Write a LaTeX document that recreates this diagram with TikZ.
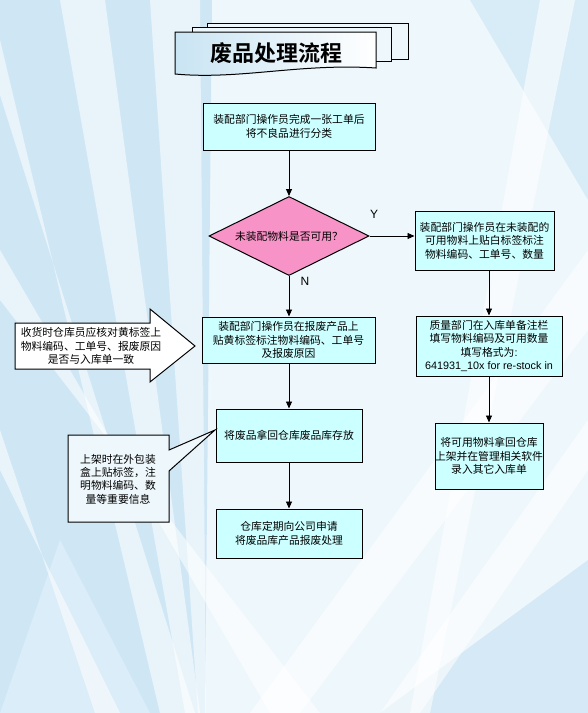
\documentclass[tikz,border=0pt]{standalone}
\usepackage{fontspec}
\setmainfont{Liberation Sans}
\newfontfamily\cjk{Noto Sans CJK SC}
\newfontfamily\cjkbold{Noto Sans CJK SC Bold}
\usetikzlibrary{arrows.meta,shapes.geometric}
\definecolor{boxfill}{HTML}{CCFFFF}
\definecolor{pinkfill}{HTML}{F793C6}
\definecolor{bgblue}{HTML}{CFE7F5}
\definecolor{bglight}{HTML}{EEF7FC}
\definecolor{titleblue}{HTML}{C9E4F3}
\tikzset{
  procbox/.style={draw=black, line width=1pt, fill=boxfill, inner sep=0pt, align=center,
    font=\cjk\fontsize{10.8}{13.5}\selectfont},
  decision/.style={draw=black, line width=1pt, fill=pinkfill, diamond, aspect=2, inner sep=0pt,
    font=\cjk\fontsize{10.8}{13.5}\selectfont},
  notetext/.style={inner sep=0pt, align=center, font=\cjk\fontsize{10.8}{13.5}\selectfont},
  flow/.style={draw=black, line width=0.9pt, -{Triangle[length=7pt,width=6pt]}},
  yn/.style={inner sep=0pt, font=\fontsize{12}{14}\selectfont},
  ray/.style={fill=white, opacity=0.55},
}
\begin{document}
\begin{tikzpicture}[x=1pt,y=-1pt]
\useasboundingbox (0,0) rectangle (588,713);
% background
\fill[bglight] (0,0) rectangle (588,713);
\fill[bgblue] (0,0) -- (212,0) -- (205,713) -- (0,713) -- cycle;
\fill[bgblue!70!bglight] (470,0) -- (588,0) -- (588,200) -- cycle;
\fill[bgblue!80!bglight] (588,560) -- (588,713) -- (380,713) -- cycle;
\fill[bgblue!60!bglight] (0,713) -- (60,540) -- (150,713) -- cycle;
\fill[ray] (0,40) -- (0,95) -- (195,713) -- (160,713) -- cycle;
\fill[ray] (60,0) -- (105,0) -- (200,713) -- (185,713) -- cycle;
\fill[ray] (0,250) -- (0,300) -- (320,713) -- (270,713) -- cycle;
\fill[ray] (150,0) -- (200,0) -- (206,713) -- (198,713) -- cycle;
\fill[ray] (0,430) -- (0,470) -- (120,713) -- (95,713) -- cycle;
\fill[ray] (588,250) -- (588,330) -- (300,713) -- (250,713) -- cycle;
\fill[ray] (588,420) -- (588,470) -- (420,713) -- (380,713) -- cycle;
\fill[ray] (540,0) -- (575,0) -- (430,713) -- (410,713) -- cycle;

% title (stacked documents)
\filldraw[draw=black, line width=1pt, fill=bglight] (207,32) -- (207,23) -- (408,23) -- (408,59) -- (391,59);
\filldraw[draw=black, line width=1pt, fill=bglight] (192,32) -- (192,27) -- (391,27) -- (391,61) -- (376,61);
\shade[left color=titleblue, right color=white, draw=black, line width=1pt]
  (175,32) -- (376,32) -- (376,68) .. controls (300,63) and (240,80) .. (175,74) -- cycle;
\node[inner sep=0pt, font=\cjkbold\fontsize{22}{24}\selectfont] (title) at (276,53) {废品处理流程};

% main flow
\node[procbox, minimum width=172pt, minimum height=47pt] (b1) at (289,126.5)
  {装配部门操作员完成一张工单后\\将不良品进行分类};
\node[decision, minimum width=160pt, minimum height=79pt] (d) at (289,236)
  {未装配物料是否可用？};
\node[procbox, minimum width=139pt, minimum height=59pt] (r1) at (484.5,240.5)
  {装配部门操作员在未装配的\\可用物料上贴白标签标注\\物料编码、工单号、数量};
\node[procbox, minimum width=146pt, minimum height=60pt] (r2) at (489,346)
  {质量部门在入库单备注栏\\填写物料编码及可用数量\\填写格式为{\fontspec{Liberation Sans}:}\\{\fontspec{Liberation Sans}641931\_10x for re-stock in}};
\node[procbox, minimum width=106pt, minimum height=66pt] (r3) at (489,456)
  {将可用物料拿回仓库\\上架并在管理相关软件\\录入其它入库单};
\node[procbox, minimum width=173pt, minimum height=46pt] (b2) at (288.5,340)
  {装配部门操作员在报废产品上\\贴黄标签标注物料编码、工单号\\及报废原因};
\node[procbox, minimum width=146pt, minimum height=53pt] (b3) at (289,435.5)
  {将废品拿回仓库废品库存放};
\node[procbox, minimum width=146pt, minimum height=49pt] (b4) at (289,533.5)
  {仓库定期向公司申请\\将废品库产品报废处理};

% connectors
\draw[flow] (b1.south) -- (d.north);
\draw[flow] (d.east) -- (r1.west |- d.east);
\draw[flow] (d.south) -- (b2.north -| d.south);
\draw[flow] (r1.south -| r2.north) -- (r2.north);
\draw[flow] (r2.south) -- (r3.north);
\draw[flow] (b2.south -| b3.north) -- (b3.north);
\draw[flow] (b3.south) -- (b4.north);
\node[yn] (ylab) at (374,214) {Y};
\node[yn] (nlab) at (305,281) {N};

% big arrow note
\filldraw[draw=black, line width=1pt, fill=white]
  (15,323) -- (150,323) -- (150,309) -- (195,346) -- (150,382) -- (150,369) -- (15,369) -- cycle;
\node[notetext] (n1) at (91,346)
  {收货时仓库员应核对黄标签上\\物料编码、工单号、报废原因\\是否与入库单一致};

% callout note
\filldraw[draw=black, line width=1pt, fill=bglight]
  (68,435) -- (169,435) -- (169,450) -- (215,430) -- (169,471) -- (169,522) -- (68,522) -- cycle;
\node[notetext, font=\cjk\fontsize{10.8}{13.3}\selectfont] (n2) at (118,479)
  {上架时在外包装\\盒上贴标签，注\\明物料编码、数\\量等重要信息};
\end{tikzpicture}
\end{document}
